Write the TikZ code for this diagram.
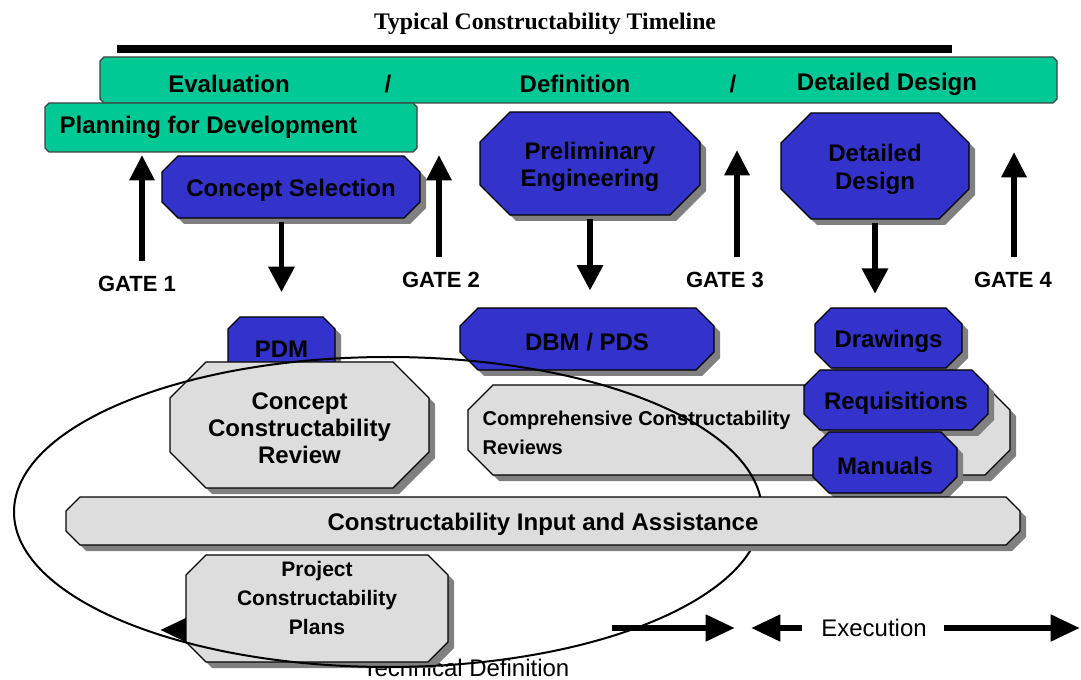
\documentclass[tikz,border=0pt]{standalone}
\usepackage{fontspec}
\setmainfont{Liberation Sans}
\newfontfamily\titlefont{Liberation Serif}
\usetikzlibrary{arrows.meta,positioning,calc,shadows}
\definecolor{phasegreen}{HTML}{00C995}
\definecolor{stageblue}{HTML}{3333CC}
\definecolor{reviewgray}{HTML}{DDDDDD}
\definecolor{shadowgray}{HTML}{808080}
% chamfered box: style, name, x1, y1, x2, y2, chamfer, text
\newcommand{\octnode}[8]{%
  \draw[#1] (#3+#7,#4) -- (#5-#7,#4) -- (#5,#4+#7) -- (#5,#6-#7)
    -- (#5-#7,#6) -- (#3+#7,#6) -- (#3,#6-#7) -- (#3,#4+#7) -- cycle;
  \node[#1 label, minimum width={(#5-#3)*0.75pt}, minimum height={(#6-#4)*0.75pt}]
    (#2) at ({(#3+#5)/2},{(#4+#6)/2}) {#8};}
\tikzset{
  every node/.style={text=black},
  boxfont/.style={font=\fontsize{18}{20.5}\selectfont\bfseries},
  phase/.style={draw=black!75,line width=0.9pt,fill=phasegreen},
  phase label/.style={inner sep=0pt},
  phasetext/.style={boxfont,inner sep=0pt},
  stage/.style={draw=black,line width=1pt,fill=stageblue,
    drop shadow={shadow xshift=4.5pt,shadow yshift=-4.5pt,fill=shadowgray,opacity=1}},
  stage label/.style={boxfont,align=center,inner sep=0pt,yshift=-2.5pt},
  review/.style={stage,fill=reviewgray},
  review label/.style={stage label},
  plan/.style={review},
  plan label/.style={font=\fontsize{15.75}{21.75}\selectfont\bfseries,align=center,inner sep=0pt,yshift=8pt},
  compfont/.style={font=\fontsize{15}{21.75}\selectfont\bfseries,align=left,inner sep=0pt},
  titletext/.style={font=\titlefont\bfseries\fontsize{17.8}{20}\selectfont,inner sep=0pt},
  gatetext/.style={font=\fontsize{16.5}{18}\selectfont\bfseries,inner sep=0pt},
  timetext/.style={font=\fontsize{18}{20}\selectfont,inner sep=0pt},
  gatear/.style={-{Triangle[length=19pt,width=18pt]},line width=4.5pt,shorten <=11pt},
  dropar/.style={-{Triangle[length=19pt,width=19pt]},line width=4pt},
  timear/.style={-{Triangle[length=22pt,width=19pt]},line width=5pt},
  cycleline/.style={draw=black,line width=1.5pt}
}
\begin{document}
\begin{tikzpicture}[x=0.75pt,y=-0.75pt]
  \useasboundingbox (0,0) rectangle (1081,680);

  \node[titletext] (title) at (545,24) {Typical Constructability Timeline};
  \fill[black] (117,45) rectangle (952,53);

  % phases
  \octnode{phase}{timeline}{100}{57}{1057}{103}{4}{}
  \node[phasetext] (eval) at (229,84) {Evaluation};
  \node[phasetext] (sep1) at (388,84) {/};
  \node[phasetext] (defn) at (575,84) {Definition};
  \node[phasetext] (sep2) at (733,84) {/};
  \node[phasetext] (detd) at (887,84) {Detailed Design};
  \octnode{phase}{planning}{45}{103}{417}{152}{4}{}
  \node[phasetext,right=11pt of planning.west] (plantext) {Planning for Development};

  % stages
  \octnode{stage}{csel}{162}{156}{420}{218}{16}{Concept Selection}
  \octnode{stage}{prelim}{480}{112}{700}{215}{30}{Preliminary\\Engineering}
  \octnode{stage}{ddes}{781}{113}{969}{219}{30}{Detailed\\Design}

  % gates
  \coordinate (g1tip) at (142,155);
  \coordinate (g2tip) at (439,155);
  \coordinate (g3tip) at (737,150);
  \coordinate (g4tip) at (1014,152);
  \node[gatetext] (gate1) at (137,284) {GATE 1};
  \node[gatetext] (gate2) at (441,280) {GATE 2};
  \node[gatetext] (gate3) at (725,280) {GATE 3};
  \node[gatetext] (gate4) at (1013,280) {GATE 4};
  \draw[gatear] (gate1.north -| g1tip) -- (g1tip);
  \draw[gatear] (gate2.north -| g2tip) -- (g2tip);
  \draw[gatear] (gate3.north -| g3tip) -- (g3tip);
  \draw[gatear] (gate4.north -| g4tip) -- (g4tip);

  % deliverables
  \octnode{stage}{pdm}{228}{317}{335}{375}{12}{PDM}
  \octnode{stage}{dbm}{460}{308}{714}{370}{18}{DBM / PDS}
  \octnode{review}{ccr}{170}{362}{429}{488}{36}{Concept\\Constructability\\Review}
  \octnode{review}{comp}{468}{385}{1010}{475}{25}{}
  \node[compfont,right=11pt of comp.west] (comptext) {Comprehensive Constructability\\Reviews};
  \octnode{stage}{drw}{815}{308}{962}{368}{16}{Drawings}
  \octnode{stage}{req}{804}{370}{988}{430}{16}{Requisitions}
  \octnode{stage}{man}{813}{432}{957}{493}{16}{Manuals}

  \draw[dropar,shorten >=21pt] (csel.south -| pdm) -- (pdm.north);
  \draw[dropar,shorten >=15.5pt] (prelim.south) -- (prelim.south |- dbm.north);
  \draw[dropar,shorten >=13pt] (ddes.south) -- (ddes.south |- drw.north);

  % time line at the bottom
  \coordinate (tdLs) at (230,630);
  \coordinate (tdL) at (160,630);
  \coordinate (tdRs) at (612,628);
  \coordinate (tdR) at (735,628);
  \coordinate (exL) at (751,628);
  \coordinate (exR) at (1080,628);
  \node[timetext] (techdef) at (466,668) {Technical Definition};
  \node[timetext] (exec) at (874,628) {Execution};
  \draw[timear] (tdLs) -- (tdL);
  \draw[timear] (tdRs) -- (tdR);
  \draw[timear,shorten <=14.5pt] (exec.west) -- (exL);
  \draw[timear,shorten <=12.4pt] (exec.east) -- (exR);

  \octnode{plan}{pcp}{186}{555}{448}{662}{20}{Project\\Constructability\\Plans}

  \draw[cycleline] (388,512) ellipse [x radius=280.5pt,y radius=116.25pt];

  \octnode{review}{input}{66}{497}{1020}{545}{14}{Constructability Input and Assistance}
\end{tikzpicture}
\end{document}
